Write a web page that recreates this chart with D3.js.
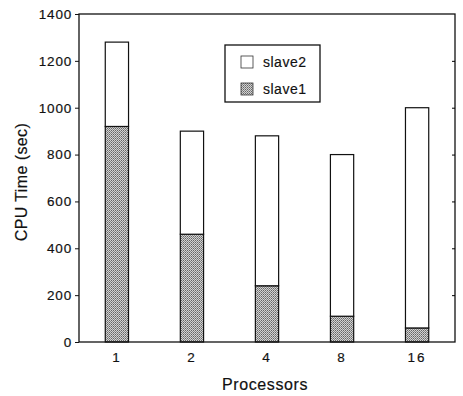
<!DOCTYPE html>
<html>
<head>
<meta charset="utf-8">
<script src="https://cdn.jsdelivr.net/npm/d3@7"></script>
<style>
  body { margin: 0; background: #fff; }
  text { font-family: "Liberation Sans", Arial, sans-serif; fill: #111; stroke: #111; stroke-width: 0.18px; }
</style>
</head>
<body>
<div id="chart"></div>
<script>
const processors = ["1", "2", "4", "8", "16"];
const slave1 = [920, 460, 240, 110, 60];
const slave2 = [360, 440, 640, 690, 940];
const yTicks = [0, 200, 400, 600, 800, 1000, 1200, 1400];

const width = 463, height = 396;
const margin = { top: 14, right: 8, bottom: 54, left: 79 };
const innerW = width - margin.left - margin.right;
const innerH = height - margin.top - margin.bottom;

const svg = d3.select("#chart").append("svg")
  .attr("width", width)
  .attr("height", height);

// stipple pattern for slave1
const defs = svg.append("defs");
const pat = defs.append("pattern")
  .attr("id", "stipple")
  .attr("width", 2).attr("height", 2)
  .attr("patternUnits", "userSpaceOnUse");
pat.append("rect").attr("width", 2).attr("height", 2).attr("fill", "#d2d2d2");
pat.append("rect").attr("width", 1).attr("height", 1).attr("fill", "#666");
pat.append("rect").attr("x", 1).attr("y", 1).attr("width", 1).attr("height", 1).attr("fill", "#888");

const g = svg.append("g")
  .attr("transform", `translate(${margin.left},${margin.top})`);

const x = d3.scaleBand()
  .domain(processors)
  .range([0, innerW])
  .paddingInner(0.69)
  .paddingOuter(0.35);

const y = d3.scaleLinear()
  .domain([0, 1400])
  .range([innerH, 0]);

const rows = processors.map((p, i) => ({ p, slave1: slave1[i], slave2: slave2[i] }));
const stacked = d3.stack().keys(["slave1", "slave2"])(rows);

g.selectAll("g.layer")
  .data(stacked)
  .enter()
  .append("g")
  .attr("class", "layer")
  .selectAll("rect")
  .data(d => d.map(v => Object.assign(v, { key: d.key })))
  .enter()
  .append("rect")
  .attr("x", d => x(d.data.p))
  .attr("y", d => y(d[1]))
  .attr("width", x.bandwidth())
  .attr("height", d => y(d[0]) - y(d[1]))
  .attr("fill", d => d.key === "slave1" ? "url(#stipple)" : "#fff")
  .attr("stroke", "#111")
  .attr("stroke-width", 1.2);

// frame
g.append("rect")
  .attr("width", innerW)
  .attr("height", innerH)
  .attr("fill", "none")
  .attr("stroke", "#111")
  .attr("stroke-width", 1.3);

// left axis
const left = g.append("g")
  .call(d3.axisLeft(y).tickValues(yTicks).tickSize(4).tickPadding(3).tickFormat(d3.format("d")));
left.select(".domain").remove();
left.selectAll("line").attr("stroke", "#111");
left.selectAll("text").style("font-size", "13.5px").style("letter-spacing", "0.8px");

// right inner ticks
g.append("g")
  .attr("transform", `translate(${innerW},0)`)
  .call(d3.axisLeft(y).tickValues(yTicks.slice(1, -1)).tickSize(3).tickFormat(""))
  .call(a => a.select(".domain").remove());

// bottom axis labels
const bottom = g.append("g")
  .attr("transform", `translate(0,${innerH})`)
  .call(d3.axisBottom(x).tickSize(0).tickPadding(10));
bottom.select(".domain").remove();
bottom.selectAll("text").style("font-size", "13.5px").style("letter-spacing", "2px");

// axis titles
svg.append("text")
  .attr("transform", `translate(27,${margin.top + innerH / 2 + 4}) rotate(-90)`)
  .attr("text-anchor", "middle")
  .style("font-size", "16px")
  .style("letter-spacing", "0.4px")
  .text("CPU Time (sec)");

svg.append("text")
  .attr("x", margin.left + innerW / 2 - 2)
  .attr("y", 390)
  .attr("text-anchor", "middle")
  .style("font-size", "16px")
  .style("letter-spacing", "0.6px")
  .text("Processors");

// legend
const legend = svg.append("g").attr("transform", "translate(225,45)");
legend.append("rect")
  .attr("width", 95).attr("height", 57)
  .attr("fill", "#fff").attr("stroke", "#111").attr("stroke-width", 1.3);
const legendItems = ["slave2", "slave1"];
legendItems.forEach((k, i) => {
  legend.append("rect")
    .attr("x", 16).attr("y", 11 + i * 27)
    .attr("width", 12).attr("height", 12)
    .attr("fill", k === "slave1" ? "url(#stipple)" : "#fff")
    .attr("stroke", "#333").attr("stroke-width", 0.8);
  legend.append("text")
    .attr("x", 38).attr("y", 22 + i * 27)
    .style("font-size", "14px")
    .style("letter-spacing", "0.5px")
    .text(k);
});
</script>
</body>
</html>
